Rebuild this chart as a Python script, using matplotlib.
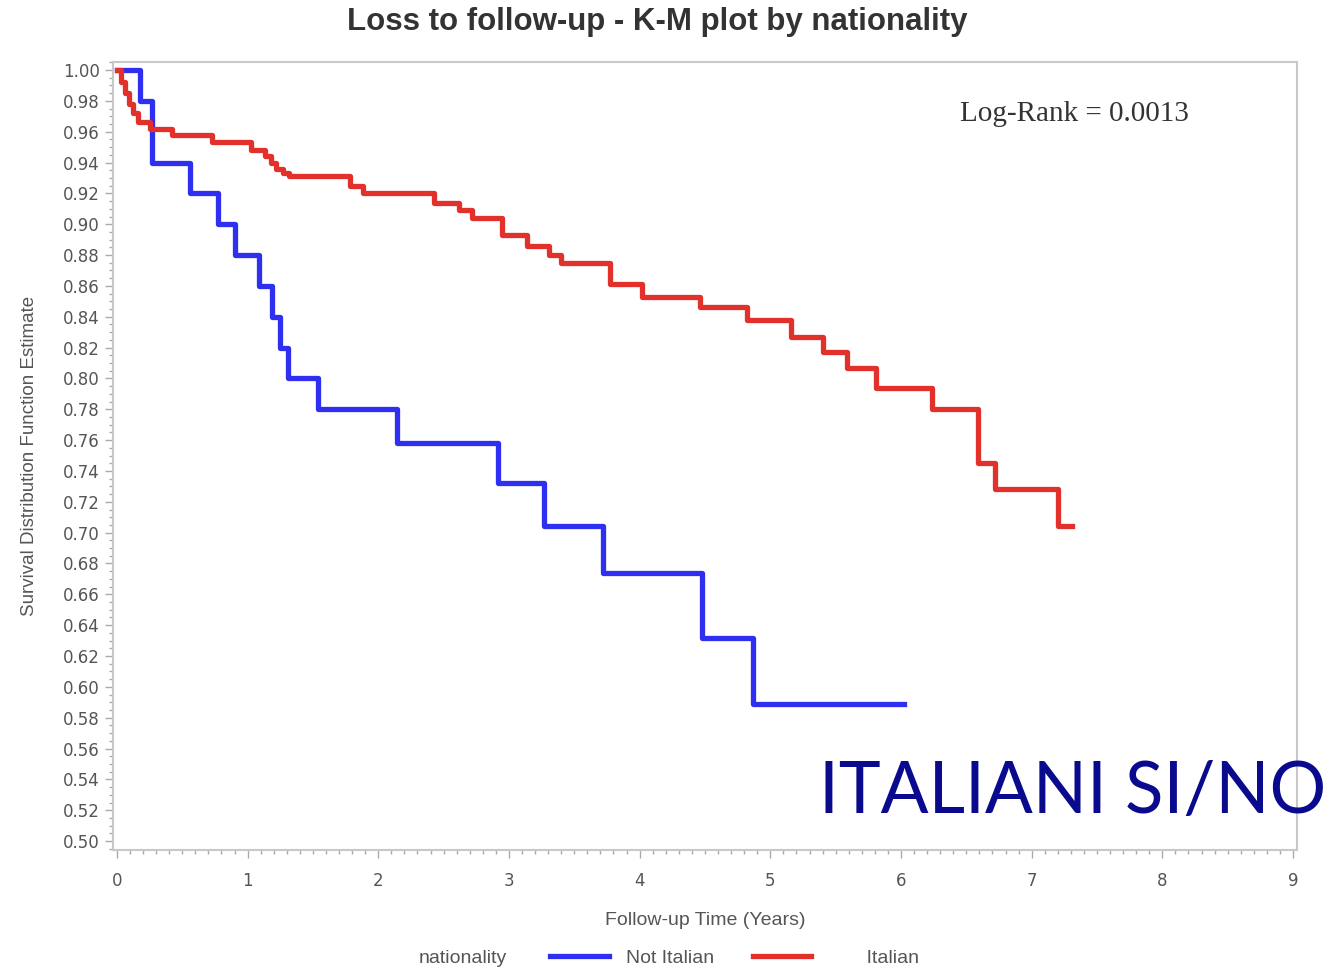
import matplotlib.pyplot as plt
from matplotlib.lines import Line2D
from matplotlib.ticker import MultipleLocator

# Kaplan-Meier steps (time in years, survival estimate)
not_italian_t = [0, 0.18, 0.27, 0.56, 0.77, 0.90, 1.09, 1.19, 1.25, 1.31, 1.54,
                 2.14, 2.92, 3.27, 3.72, 4.48, 4.87, 6.02]
not_italian_s = [1.00, 0.98, 0.94, 0.92, 0.90, 0.88, 0.86, 0.84, 0.82, 0.80, 0.78,
                 0.758, 0.732, 0.704, 0.674, 0.632, 0.589, 0.589]

italian_t = [0, 0.03, 0.06, 0.09, 0.12, 0.16, 0.25, 0.42, 0.73, 1.03, 1.13, 1.18,
             1.22, 1.27, 1.32, 1.78, 1.88, 2.43, 2.62, 2.72, 2.95, 3.14, 3.31,
             3.40, 3.77, 4.02, 4.46, 4.82, 5.16, 5.40, 5.59, 5.81, 6.24, 6.59,
             6.72, 7.20, 7.31]
italian_s = [1.00, 0.992, 0.985, 0.978, 0.972, 0.966, 0.962, 0.958, 0.953, 0.948,
             0.944, 0.940, 0.936, 0.933, 0.931, 0.925, 0.920, 0.914, 0.909, 0.904,
             0.893, 0.886, 0.880, 0.875, 0.861, 0.853, 0.846, 0.838, 0.827, 0.817,
             0.807, 0.794, 0.780, 0.745, 0.728, 0.704, 0.704]

blue = '#2f2ff2'
red = '#e2302b'
grey = '#555555'

fig = plt.figure(figsize=(13.26, 9.73), dpi=100)
ax = fig.add_axes([0.0852, 0.1264, 0.8929, 0.8099])

ax.step(not_italian_t, not_italian_s, where='post', color=blue, lw=3.8)
ax.step(italian_t, italian_s, where='post', color=red, lw=3.8)

ax.set_xlim(-0.03, 9.03)
ax.set_ylim(0.4942, 1.0052)
ax.xaxis.set_major_locator(MultipleLocator(1))
ax.xaxis.set_minor_locator(MultipleLocator(0.1))
ax.yaxis.set_major_locator(MultipleLocator(0.02))
ax.yaxis.set_minor_locator(MultipleLocator(0.005))
ax.set_yticklabels(['%.2f' % v for v in ax.get_yticks()])

for s in ax.spines.values():
    s.set_color('#c8c8c8')
    s.set_linewidth(1.5)
ax.tick_params(which='both', colors='#aaaaaa', labelcolor=grey, labelsize=12,
               direction='out')
ax.tick_params(which='major', length=6, width=1)
ax.tick_params(which='minor', length=3, width=1)
ax.tick_params(axis='x', pad=10)

ax.set_xlabel('Follow-up Time (Years)', fontsize=14, color=grey,
              family='Liberation Sans', labelpad=16)
ax.set_ylabel('Survival Distribution Function Estimate', fontsize=13.5,
              color=grey, family='Liberation Sans', labelpad=18)

fig.text(0.496, 0.977, 'Loss to follow-up - K-M plot by nationality',
         ha='center', va='center', fontsize=22.5, fontweight='bold',
         color='#333333', family='Liberation Sans')

ax.text(0.812, 0.934, 'Log-Rank = 0.0013', transform=ax.transAxes, ha='center',
        va='center', fontsize=21, family='Liberation Serif', color='#333333')

fig.text(0.349, 0.015, 'nationality', ha='center', va='center',
         fontsize=14, color=grey, family='Liberation Sans')
handles = [Line2D([], [], color=blue, lw=3.8), Line2D([], [], color=red, lw=3.8)]
fig.legend(handles, ['Not Italian', '       Italian'], ncol=2, frameon=False,
           loc='center', bbox_to_anchor=(0.554, 0.015),
           handlelength=3.0, handletextpad=0.9, columnspacing=2.0,
           labelcolor=grey, prop={'family': 'Liberation Sans', 'size': 14})

fig.text(1.0, 0.186, 'ITALIANI SI/NO', ha='right', va='center',
         fontsize=51, color='#0a0a8e', family='Lato')

fig.savefig('out.png', dpi=100, facecolor='white')
